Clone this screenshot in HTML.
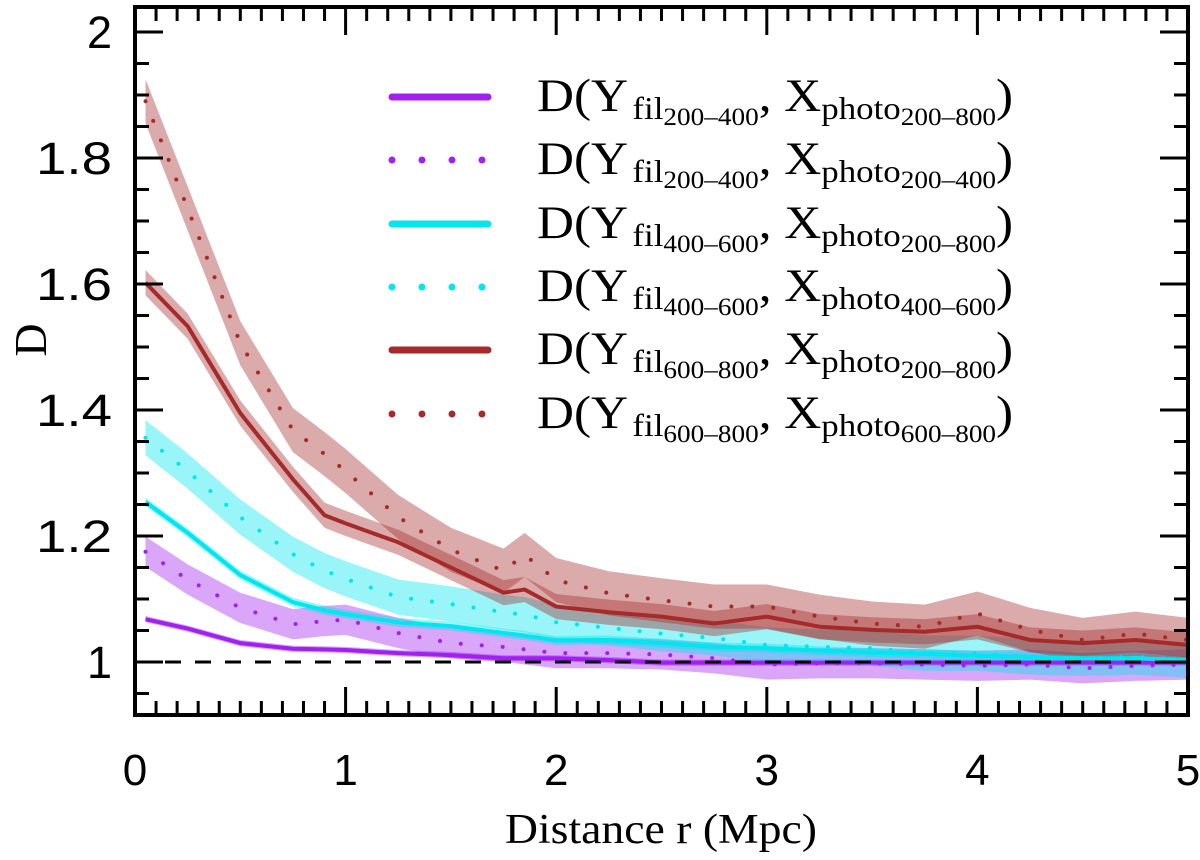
<!DOCTYPE html>
<html><head><meta charset="utf-8"><style>
html,body{margin:0;padding:0;background:#fff;}
svg{display:block;}
</style></head><body>
<svg id="chart" width="1200" height="860" xmlns="http://www.w3.org/2000/svg">
<g id="bands"></g>
<g id="lines"></g>
<g id="axes"></g>
<g id="legend"></g>
</svg>
<script>
const xVals = [0.05,0.25,0.5,0.75,0.9,1,1.25,1.5,1.75,1.85,2,2.25,2.5,2.75,3,3.25,3.5,3.75,4,4.25,4.5,4.75,5];
const brownDotted = [1.89,1.72,1.506,1.368,1.33,1.303,1.23,1.178,1.145,1.17,1.13,1.109,1.098,1.088,1.088,1.072,1.061,1.056,1.077,1.051,1.035,1.045,1.035];
const brownSolid  = [1.602,1.533,1.395,1.29,1.233,1.22,1.19,1.15,1.11,1.115,1.088,1.079,1.072,1.061,1.072,1.056,1.051,1.048,1.056,1.035,1.030,1.035,1.027];
const cyanDotted  = [1.356,1.303,1.230,1.171,1.145,1.132,1.103,1.092,1.079,1.075,1.063,1.054,1.045,1.038,1.027,1.024,1.022,1.014,1.014,1.008,1.006,1.008,1.003];
const cyanSolid   = [1.254,1.205,1.138,1.095,1.082,1.076,1.063,1.057,1.046,1.042,1.034,1.035,1.030,1.024,1.022,1.018,1.015,1.013,1.010,1.008,1.006,1.006,1.003];
const purpleDotted= [1.175,1.131,1.086,1.060,1.065,1.067,1.046,1.030,1.024,1.02,1.014,1.014,1.012,1.006,0.996,0.998,0.998,0.996,0.994,0.996,0.990,0.994,0.996];
const purpleSolid = [1.068,1.053,1.030,1.021,1.02,1.019,1.014,1.011,1.006,1.006,1.006,1.003,0.999,0.999,0.999,0.999,0.999,0.999,0.999,0.999,0.999,0.999,0.999];
const errBrownDotted = 0.035, errBrownSolid = 0.02, errCyanDotted = 0.028, errCyanSolid = 0.007, errPurpleDotted = 0.024, errPurpleSolid = 0.005;
const xTicks = ["0","1","2","3","4","5"];
const yTicks = ["1","1.2","1.4","1.6","1.8","2"];

const NS="http://www.w3.org/2000/svg";
const L=135,R=1188,T=7,B=715;
const sx=v=>L+(v-0)/5*(R-L);
const sy=v=>662-(v-1)*630;
function mk(tag,attrs,parent){const e=document.createElementNS(NS,tag);for(const k in attrs)e.setAttribute(k,attrs[k]);parent.appendChild(e);return e;}
const bands=document.getElementById('bands'),lines=document.getElementById('lines'),axes=document.getElementById('axes'),legend=document.getElementById('legend');

const series=[
 {name:'purple-solid',d:purpleSolid,e:errPurpleSolid,c:'#a020f0',band:'rgba(160,32,240,0.4)',dot:false},
 {name:'purple-dotted',d:purpleDotted,e:errPurpleDotted,c:'#a020f0',band:'rgba(160,32,240,0.4)',dot:true},
 {name:'cyan-solid',d:cyanSolid,e:errCyanSolid,c:'#00e5ee',band:'rgba(0,229,238,0.4)',dot:false},
 {name:'cyan-dotted',d:cyanDotted,e:errCyanDotted,c:'#00e5ee',band:'rgba(0,229,238,0.4)',dot:true},
 {name:'brown-solid',d:brownSolid,e:errBrownSolid,c:'#a52a2a',band:'rgba(165,42,42,0.4)',dot:false},
 {name:'brown-dotted',d:brownDotted,e:errBrownDotted,c:'#a52a2a',band:'rgba(165,42,42,0.4)',dot:true}
];
const ref=mk('line',{x1:L,x2:R,y1:sy(1),y2:sy(1),stroke:'#000','stroke-width':3,'stroke-dasharray':'16 14'},axes);



series.forEach(s=>{
  let up=xVals.map((x,i)=>sx(x)+','+sy(s.d[i]+s.e));
  let dn=xVals.map((x,i)=>sx(x)+','+sy(s.d[i]-s.e)).reverse();
  const p=mk('polygon',{points:up.concat(dn).join(' '),fill:s.band},bands);
  
  
  const pts=xVals.map((x,i)=>sx(x)+','+sy(s.d[i])).join(' ');
  const a=s.dot?{points:pts,fill:'none',stroke:s.c,'stroke-width':4,'stroke-linecap':'round','stroke-dasharray':'0 21'}:{points:pts,fill:'none',stroke:s.c,'stroke-width':4,'stroke-linejoin':'round'};
  const l=mk('polyline',a,lines);
  
  
});

const fr=mk('rect',{x:L,y:T,width:R-L,height:B-T,fill:'none',stroke:'#000','stroke-width':4},axes);


for(let i=0;i<=50;i++){const v=i/10,len=(i%10==0)?28:14,X=sx(v);
 mk('line',{x1:X,x2:X,y1:B,y2:B-len,stroke:'#000','stroke-width':3},axes);
 mk('line',{x1:X,x2:X,y1:T,y2:T+len,stroke:'#000','stroke-width':3},axes);}
xTicks.forEach(t=>{const e=mk('text',{x:sx(+t),y:785,'text-anchor':'middle','font-family':'Liberation Sans, sans-serif','font-size':44},axes);e.textContent=t;
 
 });
for(let i=0;i<=22;i++){const v=0.95+i*0.05;const Y=sy(v);if(Y<T||Y>B)continue;const len=(Math.round(v*100)%20==0)?28:14;
 mk('line',{x1:L,x2:L+len,y1:Y,y2:Y,stroke:'#000','stroke-width':3},axes);
 mk('line',{x1:R,x2:R-len,y1:Y,y2:Y,stroke:'#000','stroke-width':3},axes);}
yTicks.forEach(t=>{const at={x:112,y:sy(+t)+16,'text-anchor':'end','font-family':'Liberation Sans, sans-serif','font-size':45};
 if(t.length>1){at.textLength=76;at.lengthAdjust='spacingAndGlyphs';}
 const e=mk('text',at,axes);e.textContent=t;
 
 });
const xt=mk('text',{x:505,y:843,'font-family':'Liberation Serif, serif','font-size':42,textLength:312,lengthAdjust:'spacingAndGlyphs'},axes);xt.textContent='Distance r (Mpc)';


const yt=mk('text',{x:46,y:340,'text-anchor':'middle','font-family':'Liberation Serif, serif','font-size':46,transform:'rotate(-90 46 340)'},axes);yt.textContent='D';



const legY=[97,160,224,287,350,414];
const legLabels=[['200–400','200–800'],['200–400','200–400'],['400–600','200–800'],['400–600','400–600'],['600–800','200–800'],['600–800','600–800']];
series.forEach((s,i)=>{
  const g=mk('g',{},legend);
  
  
  const y=legY[i];
  mk('line',{x1:392,x2:488,y1:y,y2:y,stroke:s.c,'stroke-width':7,'stroke-linecap':'round','stroke-dasharray':s.dot?'0 30':'none'},g);
  const t=mk('text',{x:0,y:y+14,'font-family':'Liberation Serif, serif','font-size':47,transform:'translate(537 0) scale(1.09 1)'},g);
  t.innerHTML='D(Y<tspan font-size="32" dy="8" dx="4">fil</tspan><tspan font-size="25" dy="6">'+legLabels[i][0]+'</tspan><tspan font-size="47" dy="-14">, X</tspan><tspan font-size="32" dy="8">photo</tspan><tspan font-size="25" dy="6">'+legLabels[i][1]+'</tspan><tspan font-size="47" dy="-14">)</tspan>';
});
</script>
</body></html>
